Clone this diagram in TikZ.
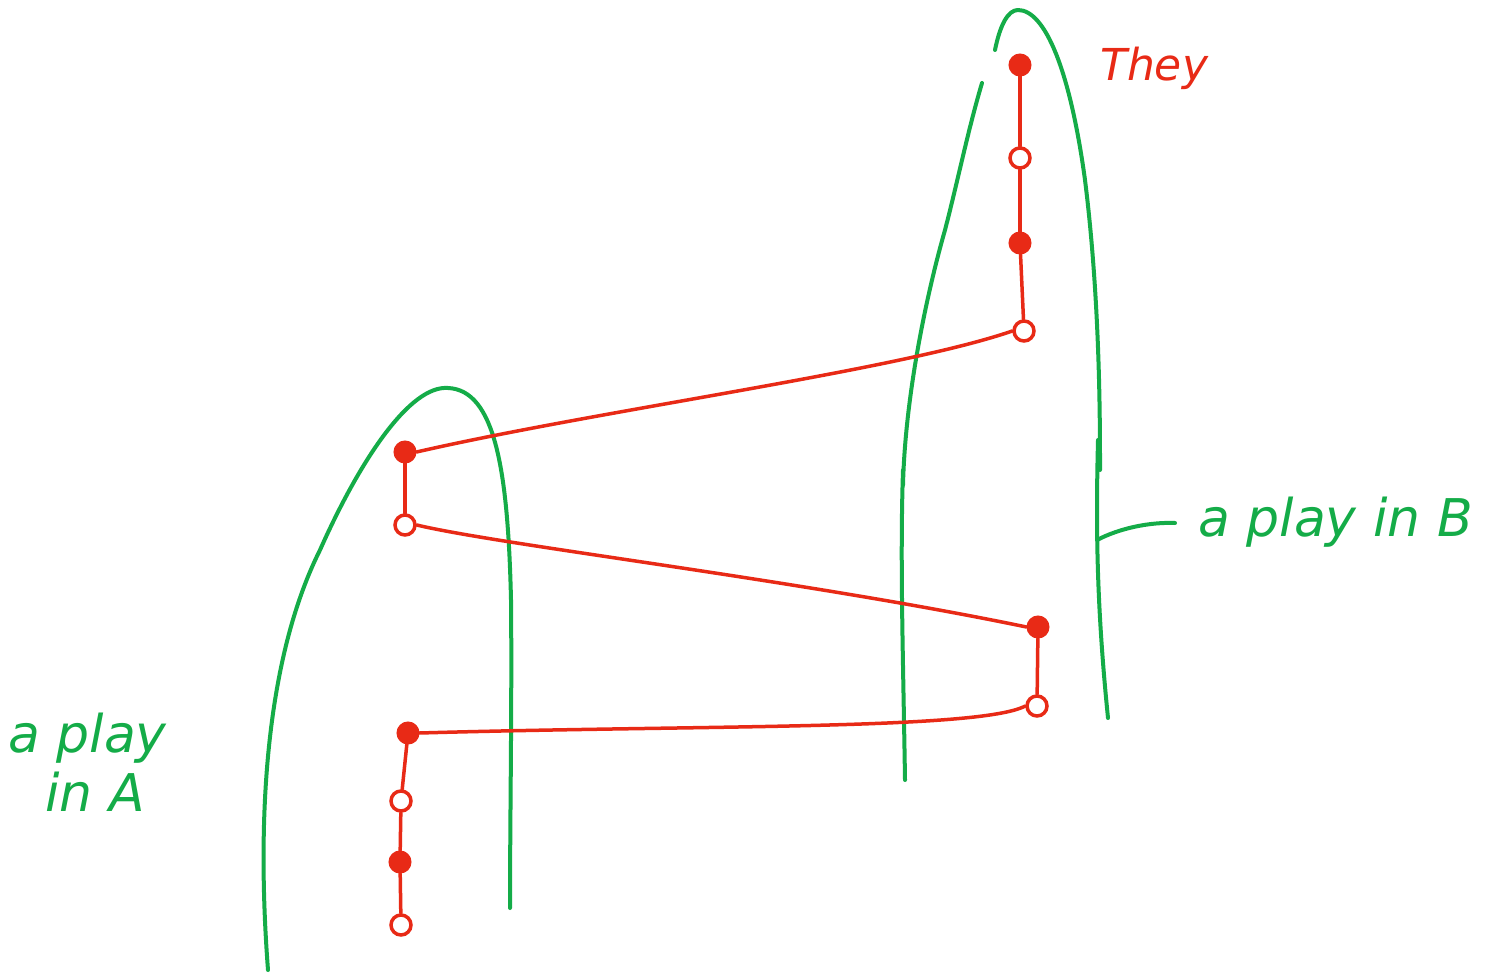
\documentclass[tikz,border=0pt]{standalone}
\usepackage{fontspec}
\setmainfont{DejaVu Sans}
\definecolor{pen}{RGB}{20,172,72}
\definecolor{ink}{RGB}{232,42,22}
\begin{document}
\begin{tikzpicture}[x=1pt,y=-1pt,
  region/.style={draw=pen,line width=4pt,line cap=round,line join=round},
  link/.style={draw=ink,line width=3.5pt,line cap=round},
  fulldot/.style={circle,fill=ink,draw=ink,line width=2pt,minimum size=21pt,inner sep=0pt},
  opendot/.style={circle,fill=white,draw=ink,line width=3.5pt,minimum size=20pt,inner sep=0pt},
  greenlabel/.style={text=pen,font=\fontsize{52}{54}\selectfont\itshape,inner sep=0pt},
  redlabel/.style={text=ink,font=\fontsize{44}{46}\selectfont\itshape,inner sep=0pt}]
\useasboundingbox (0,0) rectangle (1504,973);
\fill[white] (0,0) rectangle (1504,973);
% region B
\draw[region] (905,780) .. controls (903,650) and (900,560) .. (903,470);
\draw[region] (903,485) .. controls (905,400) and (925,300) .. (945,230)
  .. controls (958,180) and (968,130) .. (982,83);
\draw[region] (995,50) .. controls (1000,25) and (1008,10) .. (1018,10)
  .. controls (1045,10) and (1070,70) .. (1085,180)
  .. controls (1100,300) and (1100,420) .. (1100,470);
\draw[region] (1098,440) .. controls (1096,520) and (1096,600) .. (1108,718);
\draw[region] (1097,540) .. controls (1120,528) and (1150,522) .. (1175,523);
% region A
\draw[region] (268,970) .. controls (255,800) and (270,650) .. (320,550)
  .. controls (360,460) and (410,385) .. (448,388)
  .. controls (495,390) and (508,470) .. (511,600)
  .. controls (512,700) and (510,820) .. (510,908);
% chain in B (top)
\node[fulldot] (b1) at (1020,65) {};
\node[opendot] (b2) at (1020,158) {};
\node[fulldot] (b3) at (1020,243) {};
\node[opendot] (b4) at (1024,331) {};
% A upper
\node[fulldot] (a1) at (405,452) {};
\node[opendot] (a2) at (405,525) {};
% B middle
\node[fulldot] (b5) at (1038,627) {};
\node[opendot] (b6) at (1037,706) {};
% A lower
\node[fulldot] (a3) at (408,733) {};
\node[opendot] (a4) at (401,801) {};
\node[fulldot] (a5) at (400,862) {};
\node[opendot] (a6) at (401,925) {};
% links
\draw[link] (b1) -- (b2);
\draw[link] (b2) -- (b3);
\draw[link] (b3) -- (b4);
\draw[link] (b4.west) .. controls (900,370) and (600,410) .. (a1.east);
\draw[link] (a1) -- (a2);
\draw[link] (a2.east) .. controls (500,545) and (800,580) .. (b5.west);
\draw[link] (b5) -- (b6);
\draw[link] (b6.west) .. controls (980,730) and (700,725) .. (a3.east);
\draw[link] (a3) -- (a4);
\draw[link] (a4) -- (a5);
\draw[link] (a5) -- (a6);
% labels
\node[redlabel,anchor=west] (they) at (1100,68) {They};
\node[greenlabel,anchor=west] (lb) at (1198,522) {a play in B};
\node[greenlabel,anchor=west] (la1) at (8,738) {a play};
\node[greenlabel,anchor=west] (la2) at (45,792) {in A};
\end{tikzpicture}
\end{document}
